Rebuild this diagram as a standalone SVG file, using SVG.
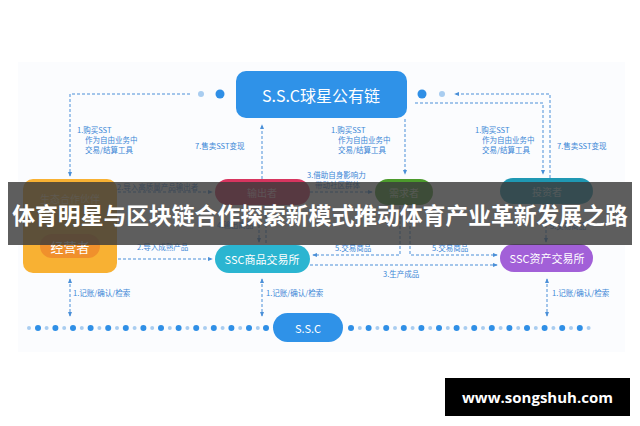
<svg xmlns="http://www.w3.org/2000/svg" width="640" height="426" viewBox="0 0 640 426">
<defs>
<style>
.lbl{font-family:"Noto Sans CJK SC","Noto Sans",sans-serif;font-size:7.5px;fill:#3a86d6}
.ntx{font-family:"Noto Sans CJK SC","Noto Sans",sans-serif;fill:#fff;text-anchor:middle;dominant-baseline:central}
.dash{fill:none;stroke:#4a8fd8;stroke-width:1;stroke-dasharray:3 2}
.bd{fill:#2f8fe6}
.sd{fill:#a9cdf0}
</style>
<marker id="ah" viewBox="0 0 6 6" refX="5" refY="3" markerWidth="5" markerHeight="5" orient="auto-start-reverse">
<path d="M0,0.5 L6,3 L0,5.5 Z" fill="#4a8fd8"/>
</marker>
</defs>
<rect width="640" height="426" fill="#fff"/>
<rect x="18" y="62" width="607" height="290" fill="#fbfcfe"/>

<g id="connectors">
<path class="dash" d="M190,94 H70 V176" marker-end="url(#ah)"/>
<path class="dash" d="M262,179 V125" marker-end="url(#ah)"/>
<path class="dash" d="M405,119 V174" marker-end="url(#ah)"/>
<path class="dash" d="M415,103 H543 V174" marker-end="url(#ah)"/>
<path class="dash" d="M550,178 V94 H455" marker-end="url(#ah)"/>
<path class="dash" d="M118,192 H212" marker-end="url(#ah)"/>
<path class="dash" d="M310,192 H372" marker-end="url(#ah)"/>
<path class="dash" d="M259,205 V242" marker-end="url(#ah)"/>
<path class="dash" d="M266,243 V206"/>
<path class="dash" d="M400,206 V255 H313" marker-end="url(#ah)"/>
<path class="dash" d="M410,206 V255 H497" marker-end="url(#ah)"/>
<path class="dash" d="M310,265 H497" marker-end="url(#ah)"/>
<path class="dash" d="M118,259 H212" marker-end="url(#ah)"/>
<path class="dash" d="M546,205 V242" marker-end="url(#ah)"/>
<path class="dash" d="M70,279 V316" marker-start="url(#ah)" marker-end="url(#ah)"/>
<path class="dash" d="M262,279 V316" marker-start="url(#ah)" marker-end="url(#ah)"/>
<path class="dash" d="M547,279 V316" marker-start="url(#ah)" marker-end="url(#ah)"/>
<circle class="sd" cx="201" cy="94" r="3"/>
<circle class="bd" cx="220" cy="94" r="4.5"/>
<circle class="bd" cx="422" cy="94" r="4.5"/>
<circle class="sd" cx="442" cy="94" r="3"/>
</g>

<g id="labels">
<text class="lbl" x="77" y="133">1.购买SST</text>
<text class="lbl" x="85" y="143">作为自由业务中</text>
<text class="lbl" x="85" y="153">交易/结算工具</text>
<text class="lbl" x="331" y="133">1.购买SST</text>
<text class="lbl" x="338" y="143">作为自由业务中</text>
<text class="lbl" x="338" y="153">交易/结算工具</text>
<text class="lbl" x="475" y="133">1.购买SST</text>
<text class="lbl" x="482" y="143">作为自由业务中</text>
<text class="lbl" x="482" y="153">交易/结算工具</text>
<text class="lbl" x="195" y="149">7.售卖SST变现</text>
<text class="lbl" x="557" y="149">7.售卖SST变现</text>
<text class="lbl" x="117" y="190">2.导入高质量产品输出者</text>
<text class="lbl" x="307" y="178">3.借助自身影响力</text>
<text class="lbl" x="315" y="188">带动社区群体</text>
<text class="lbl" x="217" y="228">4.输出商品</text>
<text class="lbl" x="137" y="250">2.导入成熟产品</text>
<text class="lbl" x="335" y="251">5.交易商品</text>
<text class="lbl" x="432" y="251">5.交易商品</text>
<text class="lbl" x="550" y="229">5.交易商品</text>
<text class="lbl" x="383" y="277">3.生产成品</text>
<text class="lbl" x="73" y="296">1.记账/确认/检索</text>
<text class="lbl" x="266" y="296">1.记账/确认/检索</text>
<text class="lbl" x="552" y="296">1.记账/确认/检索</text>
</g>

<g id="node-chain">
<rect x="236" y="71" width="171" height="47" rx="10" fill="#2f92e8"/>
<text class="ntx" x="321" y="95" font-size="16">S.S.C球星公有链</text>
</g>
<g id="node-partner">
<rect x="23" y="179" width="94" height="94" rx="10" fill="#f8b133"/>
<text class="ntx" x="70" y="198" font-size="10" fill-opacity="0.6">生态合作伙伴</text>
<rect x="40" y="234" width="60" height="24" rx="12" fill="#f0902c"/>
<text class="ntx" x="70" y="246" font-size="13">经营者</text>
</g>
<g id="node-output">
<rect x="215" y="179" width="95" height="26" rx="13" fill="#d7355f"/>
<text class="ntx" x="262" y="192" font-size="10" fill-opacity="0.7">输出者</text>
</g>
<g id="node-demand">
<rect x="375" y="179" width="58" height="26" rx="13" fill="#4c9a2c"/>
<text class="ntx" x="404" y="192" font-size="10" fill-opacity="0.7">需求者</text>
</g>
<g id="node-investor">
<rect x="500" y="178" width="93" height="26" rx="13" fill="#1f98b3"/>
<text class="ntx" x="547" y="191" font-size="10" fill-opacity="0.7">投资者</text>
</g>
<g id="node-goods">
<rect x="215" y="245" width="95" height="28" rx="14" fill="#2bb5d1"/>
<text class="ntx" x="262" y="259" font-size="11">SSC商品交易所</text>
</g>
<g id="node-asset">
<rect x="500" y="244" width="93" height="28" rx="14" fill="#a260d8"/>
<text class="ntx" x="547" y="258" font-size="11">SSC资产交易所</text>
</g>
<g id="node-ssc">
<rect x="273" y="313" width="70" height="29" rx="14.5" fill="#2f92e8"/>
<text class="ntx" x="308" y="328" font-size="11">S.S.C</text>
</g>

<g id="dots">
<circle class="sd" cx="29" cy="328" r="2"/><circle class="bd" cx="38" cy="328" r="3"/>
<circle class="sd" cx="46.6" cy="328" r="2"/><circle class="bd" cx="55.4" cy="328" r="3"/>
<circle class="sd" cx="64.2" cy="328" r="2"/><circle class="bd" cx="73" cy="328" r="3"/>
<circle class="sd" cx="81.8" cy="328" r="2"/><circle class="bd" cx="90.6" cy="328" r="3"/>
<circle class="sd" cx="99.4" cy="328" r="2"/><circle class="bd" cx="108.2" cy="328" r="3"/>
<circle class="sd" cx="117" cy="328" r="2"/><circle class="bd" cx="125.8" cy="328" r="3"/>
<circle class="sd" cx="134.6" cy="328" r="2"/><circle class="bd" cx="143.4" cy="328" r="3"/>
<circle class="sd" cx="152.2" cy="328" r="2"/><circle class="bd" cx="161" cy="328" r="3"/>
<circle class="sd" cx="169.8" cy="328" r="2"/><circle class="bd" cx="178.6" cy="328" r="3"/>
<circle class="sd" cx="187.4" cy="328" r="2"/><circle class="bd" cx="196.2" cy="328" r="3"/>
<circle class="sd" cx="205" cy="328" r="2"/><circle class="bd" cx="213.8" cy="328" r="3"/>
<circle class="sd" cx="222.6" cy="328" r="2"/><circle class="bd" cx="231.4" cy="328" r="3"/>
<circle class="sd" cx="240.2" cy="328" r="2"/><circle class="bd" cx="249" cy="328" r="3"/>
<circle class="sd" cx="257.8" cy="328" r="2"/><circle class="bd" cx="266" cy="328" r="3"/>
<circle class="bd" cx="351" cy="328" r="3"/><circle class="sd" cx="359.8" cy="328" r="2"/>
<circle class="bd" cx="368.6" cy="328" r="3"/><circle class="sd" cx="377.4" cy="328" r="2"/>
<circle class="bd" cx="386.2" cy="328" r="3"/><circle class="sd" cx="395" cy="328" r="2"/>
<circle class="bd" cx="403.8" cy="328" r="3"/><circle class="sd" cx="412.6" cy="328" r="2"/>
<circle class="bd" cx="421.4" cy="328" r="3"/><circle class="sd" cx="430.2" cy="328" r="2"/>
<circle class="bd" cx="439" cy="328" r="3"/><circle class="sd" cx="447.8" cy="328" r="2"/>
<circle class="bd" cx="456.6" cy="328" r="3"/><circle class="sd" cx="465.4" cy="328" r="2"/>
<circle class="bd" cx="474.2" cy="328" r="3"/><circle class="sd" cx="483" cy="328" r="2"/>
<circle class="bd" cx="491.8" cy="328" r="3"/><circle class="sd" cx="500.6" cy="328" r="2"/>
<circle class="bd" cx="509.4" cy="328" r="3"/><circle class="sd" cx="518.2" cy="328" r="2"/>
<circle class="bd" cx="527" cy="328" r="3"/><circle class="sd" cx="535.8" cy="328" r="2"/>
<circle class="bd" cx="544.6" cy="328" r="3"/><circle class="sd" cx="553.4" cy="328" r="2"/>
<circle class="bd" cx="562.2" cy="328" r="3"/><circle class="sd" cx="571" cy="328" r="2"/>
<circle class="bd" cx="579.8" cy="328" r="3"/><circle class="sd" cx="588.6" cy="328" r="2"/>
</g>

<g id="banner">
<rect x="8" y="182" width="624" height="63" fill="#3a3a3a" fill-opacity="0.82"/>
<text x="320" y="214" font-family="'Noto Sans CJK SC','Noto Sans',sans-serif" font-weight="700" font-size="22.8" fill="#fff" text-anchor="middle" dominant-baseline="central">体育明星与区块链合作探索新模式推动体育产业革新发展之路</text>
</g>

<g id="watermark">
<rect x="445" y="378" width="185" height="38" fill="#000"/>
<text x="537.5" y="397" font-family="'Open Sans','DejaVu Sans',sans-serif" font-weight="700" font-size="15" fill="#fff" text-anchor="middle" dominant-baseline="central">www.songshuh.com</text>
</g>
</svg>
